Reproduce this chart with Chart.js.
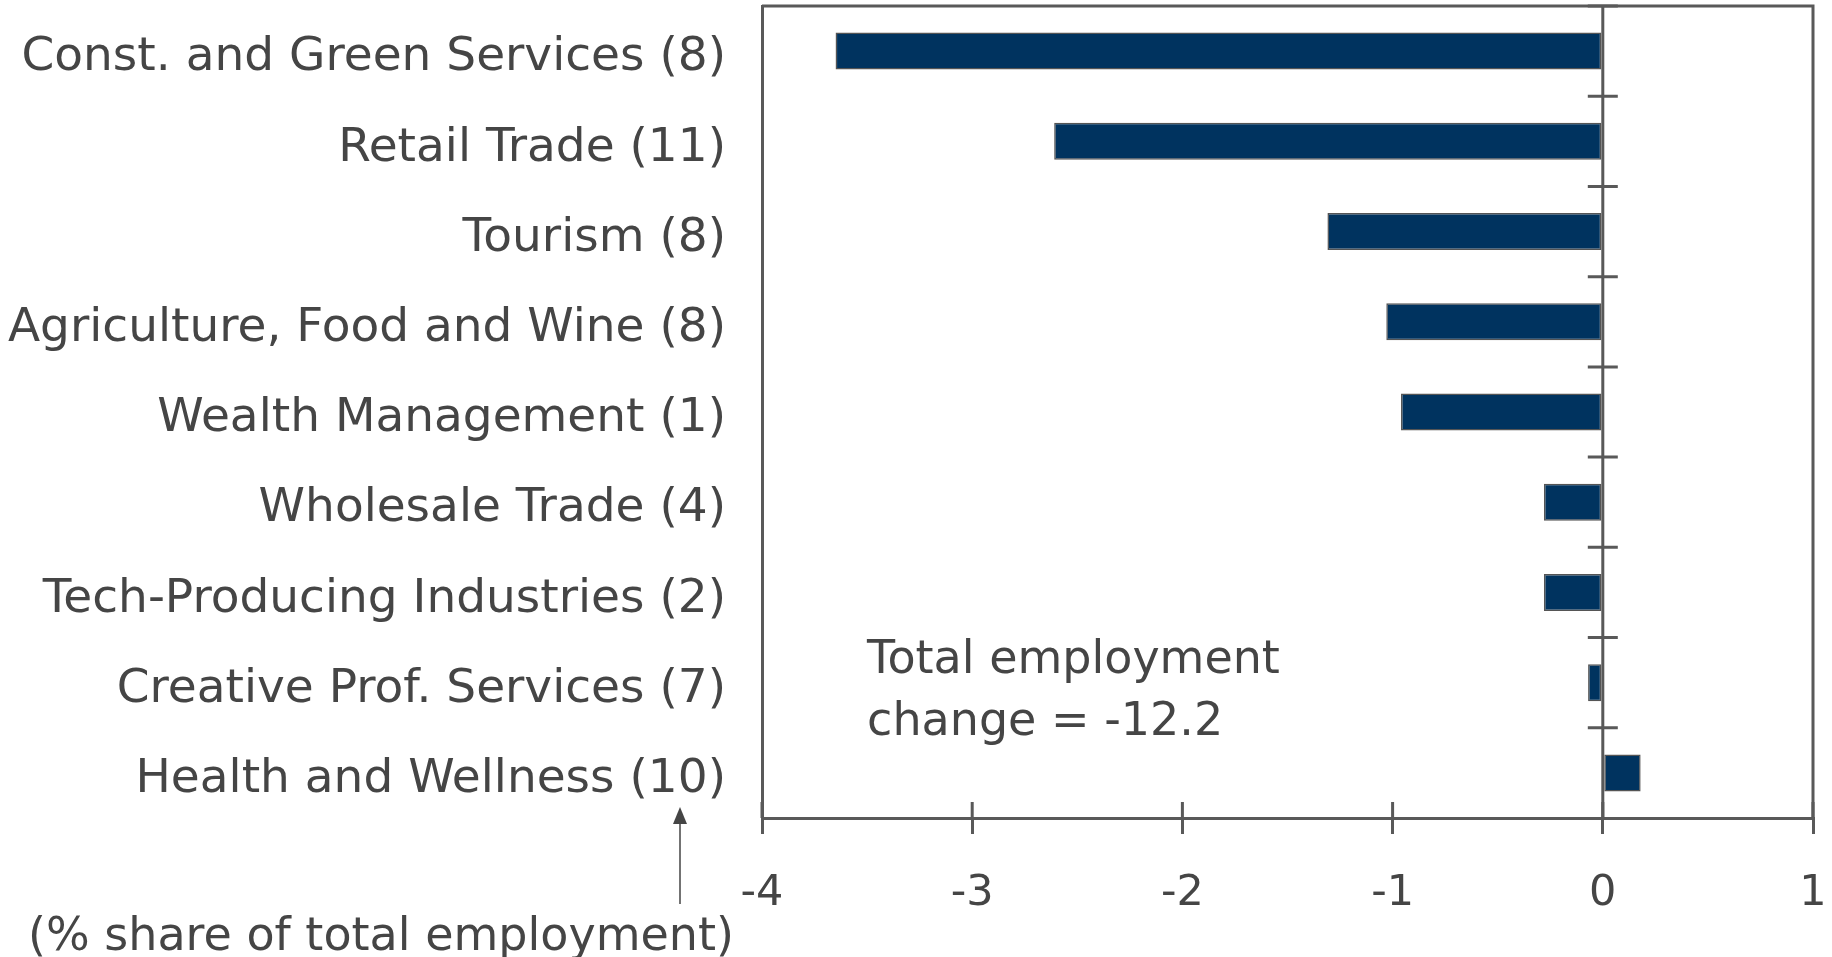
<!DOCTYPE html>
<html>
<head>
<meta charset="utf-8">
<script src="https://cdn.jsdelivr.net/npm/chart.js@4"></script>
<style>
  html, body { margin: 0; padding: 0; background: #fff; }
  #wrap { width: 1832px; height: 957px; position: relative; }
</style>
</head>
<body>
<div id="wrap"><canvas id="chart"></canvas></div>
<script>
// Sectors (share of total employment in brackets)
const sectors = [
  'Const. and Green Services (8)',
  'Retail Trade (11)',
  'Tourism (8)',
  'Agriculture, Food and Wine (8)',
  'Wealth Management (1)',
  'Wholesale Trade (4)',
  'Tech-Producing Industries (2)',
  'Creative Prof. Services (7)',
  'Health and Wellness (10)'
];
const changes = [-3.65, -2.61, -1.31, -1.03, -0.96, -0.28, -0.28, -0.07, 0.18];
const xTicks = [-4, -3, -2, -1, 0, 1];
const noteLines = ['Total employment', 'change = -12.2'];
const footNote = '(% share of total employment)';

const LINE = '#595959';
const TEXT = '#454545';
const FONT = 'DejaVu Sans';

// frame, crossing tick marks, note and arrow
const extras = {
  id: 'extras',
  afterDraw(chart) {
    const { ctx, chartArea: a, scales: { x, y } } = chart;
    const zero = x.getPixelForValue(0);
    ctx.save();
    ctx.strokeStyle = LINE;
    ctx.lineWidth = 3;
    // top + right frame
    ctx.beginPath();
    ctx.moveTo(a.left, a.top);
    ctx.lineTo(a.right, a.top);
    ctx.lineTo(a.right, a.bottom);
    ctx.stroke();
    // zero line
    ctx.beginPath();
    ctx.moveTo(zero, a.top);
    ctx.lineTo(zero, a.bottom);
    ctx.stroke();
    // category separators across the zero line
    ctx.beginPath();
    for (let i = 0; i < sectors.length; i++) {
      const py = y.getPixelForValue(i - 0.5);
      ctx.moveTo(zero - 15, py);
      ctx.lineTo(zero + 15, py);
    }
    ctx.stroke();
    // x ticks above the axis
    ctx.beginPath();
    xTicks.forEach(v => {
      const px = x.getPixelForValue(v);
      ctx.moveTo(px, a.bottom);
      ctx.lineTo(px, a.bottom - 16);
    });
    ctx.stroke();

    // note
    ctx.fillStyle = TEXT;
    ctx.font = `46px "${FONT}"`;
    ctx.textAlign = 'left';
    ctx.textBaseline = 'alphabetic';
    const nx = x.getPixelForValue(-3.5);
    ctx.fillText(noteLines[0], nx, 673);
    ctx.fillText(noteLines[1], nx, 735);

    // arrow + footnote
    ctx.strokeStyle = TEXT;
    ctx.lineWidth = 1.5;
    ctx.beginPath();
    ctx.moveTo(680, 904);
    ctx.lineTo(680, 820);
    ctx.stroke();
    ctx.beginPath();
    ctx.moveTo(680, 807);
    ctx.lineTo(673, 824);
    ctx.lineTo(687, 824);
    ctx.closePath();
    ctx.fill();
    ctx.fillText(footNote, 28, 950);
    ctx.restore();
  }
};

new Chart(document.getElementById('chart'), {
  type: 'bar',
  data: {
    labels: sectors,
    datasets: [{
      data: changes,
      backgroundColor: '#00335f',
      borderColor: '#555555',
      borderWidth: 1.5,
      borderSkipped: false,
      barPercentage: 0.41,
      categoryPercentage: 1
    }]
  },
  options: {
    indexAxis: 'y',
    responsive: true,
    maintainAspectRatio: false,
    animation: false,
    layout: { padding: { top: 6, right: 19, left: 0, bottom: 0 } },
    plugins: {
      legend: { display: false },
      tooltip: { enabled: false }
    },
    scales: {
      x: {
        min: -4,
        max: 1,
        afterBuildTicks: s => { s.ticks = xTicks.map(v => ({ value: v })); },
        afterFit: s => { s.height = 139; s.paddingLeft = 0; s.paddingRight = 0; },
        grid: { drawOnChartArea: false, drawTicks: true, tickLength: 16, color: LINE, lineWidth: 3 },
        border: { display: true, color: LINE, width: 3 },
        ticks: {
          padding: 34,
          color: TEXT,
          font: { family: FONT, size: 43 },
          maxRotation: 0
        }
      },
      y: {
        afterFit: s => { s.width = 762; s.paddingTop = 0; s.paddingBottom = 0; },
        grid: { display: false, drawTicks: false },
        border: { display: true, color: LINE, width: 3 },
        ticks: {
          padding: 36,
          color: TEXT,
          // empty first line nudges the label a little below the bar centre
          callback: (v, i) => ['', sectors[i]],
          font: { family: FONT, size: 47, lineHeight: '14px' }
        }
      }
    }
  },
  plugins: [extras]
});
</script>
</body>
</html>
